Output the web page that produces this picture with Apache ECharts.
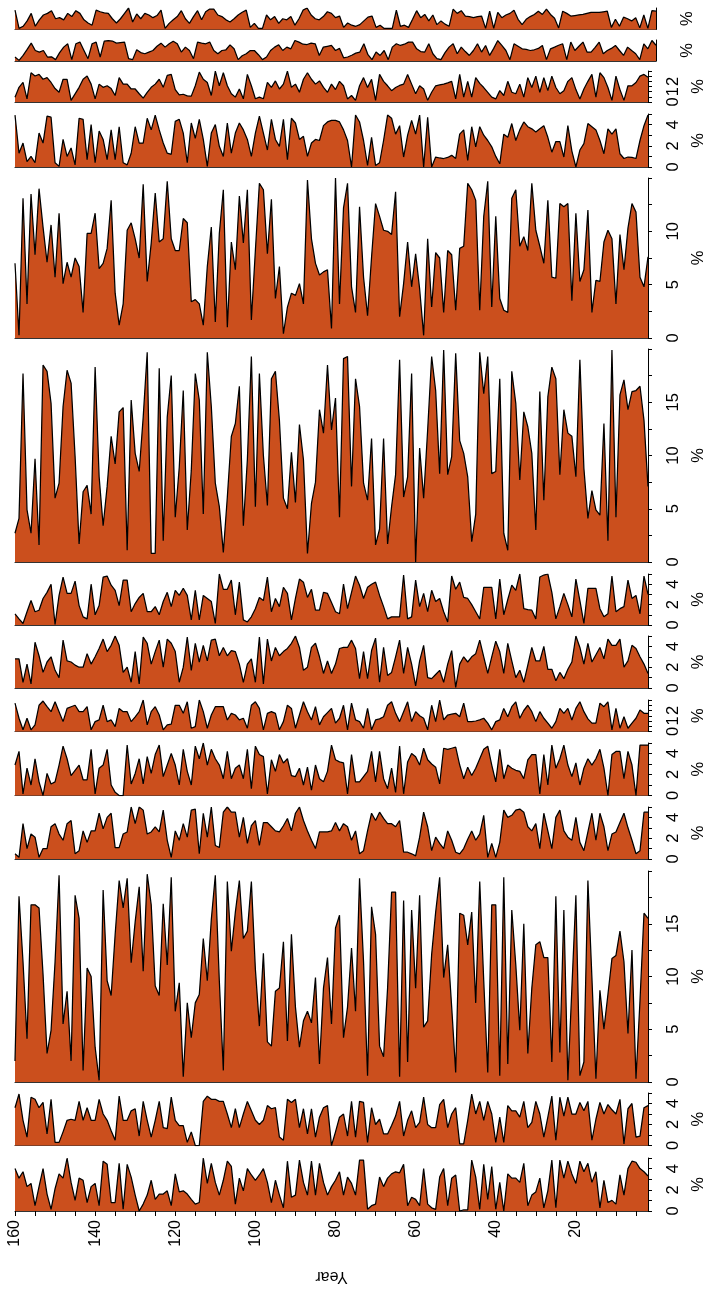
<!DOCTYPE html>
<html><head><meta charset="utf-8">
<script src="https://cdn.jsdelivr.net/npm/echarts@6/dist/echarts.min.js"></script>
<style>html,body{margin:0;padding:0;background:#fff}#c{width:715px;height:1290px}</style>
</head><body><div id="c"></div>
<script>
const years = [160,159,158,157,156,155,154,153,152,151,150,149,148,147,146,145,144,143,142,141,
140,139,138,137,136,135,134,133,132,131,130,129,128,127,126,125,124,123,122,121,
120,119,118,117,116,115,114,113,112,111,110,109,108,107,106,105,104,103,102,101,
100,99,98,97,96,95,94,93,92,91,90,89,88,87,86,85,84,83,82,81,
80,79,78,77,76,75,74,73,72,71,70,69,68,67,66,65,64,63,62,61,
60,59,58,57,56,55,54,53,52,51,50,49,48,47,46,45,44,43,42,41,
40,39,38,37,36,35,34,33,32,31,30,29,28,27,26,25,24,23,22,21,
20,19,18,17,16,15,14,13,12,11,10,9,8,7,6,5,4,3,2];

const p01 = [1.8,0.1,0.3,0.8,1.5,0.3,0.9,1.35,1.5,1.75,1.0,1.1,0.9,1.5,1.2,1.75,1.5,0.9,0.6,0.4,
1.8,1.65,1.55,1.5,1.0,0.6,1.0,1.5,2.0,0.7,1.45,1.0,1.5,1.35,1.1,1.3,1.8,0.1,0.57,0.9,
1.2,1.75,1.0,0.57,1.2,1.75,0.9,1.65,1.9,1.9,1.35,1.2,0.9,0.7,1.0,1.35,1.6,1.8,0.2,0.57,
0.1,0.1,1.35,0.9,1.2,0.57,1.0,0.9,1.2,0.4,1.0,1.8,2.0,1.35,1.0,0.9,1.2,1.65,1.5,1.1,
1.25,0.2,0.6,0.4,0.3,0.45,0.8,1.15,1.25,0.2,0.4,0.1,0.1,0.1,1.8,0.3,0.4,0.2,0.95,1.75,
1.1,1.4,0.8,1.35,0.45,0.8,0.5,0.3,1.9,1.5,1.75,1.25,1.2,1.1,1.2,1.25,0.1,1.7,0.1,1.6,
1.1,1.35,1.5,1.8,0.95,0.45,0.95,1.2,1.4,1.7,1.4,1.9,1.4,1.05,0.15,1.7,1.5,1.25,1.3,1.35,
1.4,1.5,1.6,1.6,1.6,1.65,1.7,0.2,0.95,0.3,1.15,1.0,0.8,1.1,0.15,1.35,0.1,1.75,1.7];

const p02 = [0.38,0.06,0.53,1.1,1.7,1.0,0.85,1.0,0.38,0.4,0.13,0.8,1.32,1.64,0.13,1.64,1.8,1.0,0.22,1.64,
1.8,0.38,1.89,1.95,1.9,1.7,1.75,1.8,0.22,0.13,1.07,0.8,0.69,0.85,1.0,1.4,1.7,1.32,1.64,1.89,
1.64,0.85,1.32,1.0,0.22,1.8,1.7,1.64,1.8,1.0,0.69,1.0,1.07,1.54,1.16,0.13,0.5,0.69,1.0,1.0,
0.6,0.13,0.38,1.0,1.32,1.54,1.0,1.32,1.16,1.95,1.8,1.6,1.57,1.7,1.64,0.53,1.32,1.4,1.48,1.0,
1.2,0.3,0.38,0.55,0.75,0.85,1.64,0.6,0.13,0.85,0.53,1.0,0.13,1.32,1.64,1.48,1.6,1.8,1.8,1.16,
0.9,0.85,1.64,0.69,0.22,0.13,0.8,1.32,1.64,0.69,1.32,0.9,0.53,1.0,1.64,0.85,1.48,0.53,1.2,1.95,
1.48,1.0,0.13,1.64,1.4,1.16,1.1,1.0,1.07,1.2,1.48,0.13,1.16,1.32,1.5,1.64,0.13,1.8,1.0,1.4,
1.8,0.85,0.85,1.3,1.8,0.69,1.0,1.2,1.48,1.0,0.53,1.32,1.0,0.69,0.13,1.64,1.16,1.95,1.5];

const p03 = [0.47,1.42,1.89,0.31,2.83,2.52,2.67,2.2,2.36,1.89,1.3,0.94,2.2,2.2,0.16,0.79,1.42,2.2,2.52,1.73,
0.31,1.73,1.42,1.57,1.3,0.63,2.36,1.73,1.73,1.26,1.26,0.8,0.38,0.94,1.42,1.73,2.2,1.42,2.58,2.67,
1.2,0.69,0.75,0.6,0.57,1.57,2.89,2.2,1.89,0.63,2.99,1.57,2.83,1.57,0.8,0.47,1.26,0.31,2.67,1.57,
0.31,0.47,0.31,1.89,1.42,2.04,1.26,1.73,2.99,1.42,1.73,0.94,2.2,2.83,2.2,1.73,2.04,1.42,0.94,1.73,
1.2,2.0,1.57,0.3,0.63,0.16,1.57,2.36,1.4,2.2,0.16,2.67,2.0,1.57,1.1,1.4,1.6,1.73,2.67,1.73,
0.8,1.57,1.26,0.16,0.94,1.57,1.65,1.73,1.85,2.0,0.3,2.67,0.47,2.0,0.47,2.36,1.8,1.4,0.94,0.47,
0.3,1.1,0.63,2.0,0.94,0.8,1.73,0.47,2.36,1.4,2.5,0.94,2.36,1.1,2.5,1.4,0.8,1.1,2.0,2.36,
1.2,0.3,1.26,2.0,2.67,0.47,2.83,2.36,1.4,0.16,2.5,1.2,0.16,1.57,1.57,1.89,2.5,2.67,2.4];

const p04 = [4.9,1.3,2.26,0.5,1.0,0.4,3.2,2.26,4.8,4.7,0.4,0.06,2.6,1.0,1.8,0.2,4.6,4.5,0.7,4.0,
0.4,3.4,2.6,0.7,3.5,0.7,3.8,0.4,0.2,1.3,3.8,2.26,2.26,4.6,3.5,4.9,3.5,2.26,1.3,1.2,
4.3,4.5,3.2,0.4,4.15,2.7,4.5,2.6,0.06,3.2,4.0,1.95,1.0,4.15,1.3,3.2,4.15,3.5,2.6,1.0,
3.2,4.8,3.2,1.6,4.5,2.6,1.95,4.5,0.7,4.6,4.15,2.6,2.9,1.0,2.26,2.6,
2.5,3.9,4.25,4.4,4.4,4.25,3.5,2.5,0.0,4.9,4.25,2.5,0.15,2.8,0.15,0.4,2.5,4.9,4.6,3.1,
3.9,0.94,3.0,4.4,3.1,4.9,0.0,4.7,0.0,0.94,0.85,0.8,0.9,1.1,0.8,3.1,3.5,0.63,3.8,1.9,
3.8,3.0,2.5,1.9,1.0,0.3,3.1,2.8,4.1,2.5,3.5,4.25,3.8,3.6,3.3,3.6,3.9,2.8,1.4,2.4,
2.4,0.94,3.9,1.5,0.0,1.6,2.2,4.1,3.8,3.5,2.5,1.25,3.6,3.1,3.6,1.25,0.8,0.94,0.9,0.8,
2.5,3.9,4.9];

const p05 = [7.0,0.25,13.1,3.2,13.5,7.8,14.0,10.4,7.1,10.6,5.7,11.7,5.1,7.1,5.7,7.5,6.7,2.4,9.8,9.8,
11.7,6.5,7.0,8.4,12.9,4.2,1.2,3.2,10.1,10.8,9.3,7.5,14.4,5.3,8.9,13.6,9.0,9.3,14.7,9.3,
8.2,8.2,11.2,10.8,3.4,3.6,3.2,1.2,6.7,10.4,1.5,9.8,13.9,1.0,9.0,6.4,13.3,8.9,13.9,1.7,
8.2,14.5,13.9,7.9,13.0,3.7,6.7,0.4,2.9,4.2,4.0,5.1,3.2,14.8,9.3,7.0,
5.9,6.2,6.4,0.9,15.0,3.2,12.2,14.5,4.8,2.4,12.3,5.7,2.1,7.6,12.6,11.4,10.1,10.0,9.7,13.7,
2.0,5.1,9.0,4.8,7.9,4.6,0.25,9.3,2.9,8.0,7.5,2.4,8.2,7.8,2.6,8.4,8.6,14.5,13.9,12.9,
2.6,11.4,14.7,2.9,11.4,3.7,2.6,2.4,13.1,13.9,8.6,9.5,8.2,14.5,10.1,8.6,7.0,12.9,5.7,5.6,
12.6,12.3,12.6,3.5,11.7,5.3,6.4,12.0,2.4,5.4,5.3,9.0,10.1,9.3,3.2,9.7,6.4,10.3,12.6,11.8,
5.7,4.8,7.6];

const p06 = [2.7,4.1,17.7,4.9,2.7,9.7,1.6,18.5,17.9,14.9,6.0,7.4,14.6,18.0,16.8,9.9,1.7,6.6,7.2,4.5,
18.3,8.0,3.4,7.1,11.8,9.2,14.1,14.5,1.1,15.2,10.2,8.5,13.6,19.7,0.8,0.8,18.2,2.0,13.6,17.5,
4.2,8.9,16.1,3.0,8.6,17.7,15.2,4.5,19.7,14.6,7.4,5.2,0.9,6.1,11.8,13.0,16.5,3.4,9.6,19.3,
5.2,17.7,10.0,5.3,17.2,17.9,13.3,6.0,5.0,10.3,5.6,12.9,9.6,0.8,5.5,7.5,
14.3,12.1,18.5,12.4,15.4,4.2,19.1,19.3,7.1,17.2,14.6,7.4,5.8,11.6,1.6,3.1,11.6,1.7,5.2,8.2,
19.0,6.1,8.0,17.7,0.0,10.7,6.0,12.4,19.3,16.1,8.3,19.9,8.2,9.9,19.6,11.4,10.2,8.0,1.9,4.5,
19.7,15.8,19.3,8.3,8.5,17.2,2.7,1.1,17.9,14.9,7.7,14.1,12.7,10.2,3.0,16.0,5.8,15.5,18.3,17.2,
8.2,14.3,12.1,11.8,8.0,19.0,8.8,4.1,6.7,4.9,4.4,13.0,2.0,19.9,4.2,15.7,17.1,14.3,16.0,16.1,
16.5,13.3,7.1];

const p07 = [1.1,0.6,0.15,1.3,2.4,1.3,1.45,2.6,3.2,4.0,0.05,2.9,4.7,3.1,3.1,4.3,1.9,0.8,0.6,4.0,
1.0,1.9,4.7,4.8,3.9,3.4,1.9,4.4,4.4,1.3,2.1,2.7,3.1,1.3,1.3,1.8,1.0,2.3,3.2,1.8,
3.4,2.9,3.6,2.9,0.5,3.4,0.5,2.9,2.6,2.3,0.15,5.0,3.5,3.5,4.4,1.0,4.2,0.5,0.3,0.8,
1.6,2.7,2.4,4.7,1.3,2.6,1.8,3.7,3.1,0.5,2.6,4.5,4.2,2.7,3.5,1.45,
1.45,3.2,3.1,2.2,1.3,1.1,4.0,1.6,3.2,4.8,3.9,2.6,3.7,4.0,4.2,2.9,1.8,0.6,0.8,0.8,
0.8,4.9,0.6,0.8,4.4,1.8,3.1,1.3,3.4,2.3,2.6,1.3,0.3,4.8,3.5,4.2,2.7,2.6,2.0,1.3,
0.6,3.7,3.7,3.7,0.6,4.5,1.0,2.5,3.9,3.4,5.0,1.6,1.5,1.45,0.6,4.7,4.9,5.0,3.2,0.6,
1.8,3.1,2.0,0.8,4.5,2.4,0.15,3.6,3.6,3.6,1.6,0.8,1.1,4.8,1.3,1.6,1.8,4.4,2.6,2.9,
1.1,4.8,3.0];

const p08 = [2.8,2.8,0.55,2.3,0.4,4.4,3.1,1.5,2.5,3.0,1.7,1.0,4.6,2.6,2.5,2.2,2.0,2.0,3.3,2.3,
3.0,3.8,4.7,3.5,4.1,5.0,4.1,1.5,2.0,0.55,3.5,0.4,4.9,4.3,2.3,3.5,4.6,2.0,4.7,4.3,
3.5,0.55,2.0,4.9,1.7,4.3,2.5,4.1,2.6,4.6,4.7,3.1,3.9,3.1,3.6,3.5,2.3,0.55,2.3,2.8,
0.55,4.9,0.4,4.7,2.6,3.9,3.1,3.5,3.8,4.3,5.0,3.9,1.7,2.0,3.9,4.3,
3.0,1.4,2.6,1.4,2.3,3.8,3.9,3.9,4.6,3.8,0.9,3.5,0.9,3.6,4.8,0.55,3.9,1.2,1.5,3.0,
4.6,1.4,3.9,2.3,0.2,2.6,4.1,1.0,0.9,1.3,1.7,0.55,2.3,3.6,0.06,2.3,3.0,2.5,3.0,3.3,
4.6,3.0,1.4,3.0,4.5,3.5,1.4,4.3,2.6,1.0,1.7,0.55,2.2,3.9,2.6,2.6,4.0,1.8,1.8,0.7,
1.5,0.9,1.8,2.5,5.0,3.9,2.3,4.3,2.5,3.2,3.9,2.8,4.7,4.1,4.1,4.7,2.0,2.6,4.1,3.8,
3.0,2.3,1.4];

const p09 = [2.7,1.26,0.16,1.26,0.16,0.63,2.5,2.9,2.36,1.89,2.83,1.89,0.94,2.2,2.36,2.5,1.89,1.89,2.36,0.16,
0.94,1.1,2.5,0.94,1.1,0.47,2.2,1.89,1.89,0.94,1.4,1.89,3.0,0.63,1.89,2.36,1.57,0.16,0.63,0.7,
2.5,2.5,1.73,2.83,0.31,0.47,3.0,1.89,0.31,1.57,2.36,2.36,2.36,1.1,1.73,1.57,1.1,1.26,0.31,2.5,
2.83,2.2,0.16,1.73,1.89,1.73,0.16,0.94,2.5,2.2,0.31,1.57,2.83,1.89,1.1,2.36,
0.63,1.4,1.8,2.2,0.8,1.26,2.5,0.16,2.7,1.1,0.94,0.31,2.2,0.16,1.1,1.2,1.4,2.5,2.83,1.73,
0.94,1.89,2.83,0.94,1.89,1.5,1.26,0.16,2.5,0.94,3.0,1.1,1.57,1.65,1.73,1.4,2.7,0.94,0.94,1.0,
1.1,1.26,0.8,0.16,0.94,1.1,2.2,1.4,2.36,2.83,1.26,2.0,2.5,1.89,0.94,1.89,1.26,0.8,0.31,0.94,
2.2,1.73,2.2,1.1,2.2,2.83,1.89,1.2,0.8,0.8,2.7,2.36,2.83,0.16,2.2,0.31,1.4,0.31,0.8,1.26,
2.04,1.73,1.73];

const p10 = [2.9,4.2,0.16,2.6,1.0,3.5,1.3,0.0,2.1,1.1,1.3,2.9,4.7,3.5,1.9,2.4,2.9,1.5,1.5,4.4,
0.16,2.6,2.9,4.4,1.0,0.3,0.0,0.0,4.8,1.1,2.1,3.5,1.1,3.7,2.1,3.9,4.8,1.8,2.9,4.0,
2.9,1.0,4.4,2.3,1.0,4.7,3.5,5.0,2.9,4.4,3.5,2.9,1.6,4.2,1.6,2.6,2.9,1.6,4.4,0.65,
4.7,3.9,3.7,0.16,3.4,2.3,3.9,3.1,3.5,1.9,1.8,2.6,1.0,2.7,0.5,2.9,
1.6,1.3,2.3,4.8,3.4,3.2,3.1,0.16,3.9,1.3,1.3,1.8,2.3,4.2,1.3,4.2,1.6,0.65,2.6,0.3,
4.7,0.16,3.2,4.0,3.7,2.9,4.5,3.4,3.0,2.7,1.1,4.5,4.4,4.5,4.6,2.9,1.6,2.7,1.9,2.6,
3.5,4.4,4.7,2.9,1.3,4.4,1.6,2.9,2.6,2.4,2.3,1.6,3.4,3.9,3.9,0.16,3.9,1.0,4.8,2.6,
3.5,4.8,2.9,1.8,3.1,1.0,2.6,3.5,2.9,3.5,4.4,2.6,0.0,3.9,4.2,4.2,1.6,4.2,2.9,0.0,
4.8,4.8,4.8];

const p11 = [0.5,0.16,3.4,1.0,2.4,2.1,0.16,1.0,1.0,3.1,3.4,2.4,1.8,3.4,3.7,0.5,0.8,2.7,1.6,2.7,
2.7,4.4,2.9,4.0,4.4,1.1,1.1,2.4,2.6,5.0,3.4,5.0,4.7,2.4,2.6,3.1,2.6,4.7,1.8,0.16,
2.7,1.8,3.4,2.1,4.7,4.8,0.5,4.4,2.1,5.0,1.3,1.1,4.5,5.0,4.5,4.5,2.1,4.0,1.5,3.2,
3.7,1.3,3.5,3.5,3.1,2.7,2.6,3.2,3.9,2.7,4.4,5.0,3.7,2.7,1.8,1.0,
2.6,2.6,2.6,2.7,3.5,2.7,3.4,3.1,1.8,2.7,0.5,0.8,2.7,4.4,3.7,4.5,3.9,3.4,3.4,3.1,
3.7,0.65,0.65,0.5,0.3,2.1,4.5,3.1,0.8,2.1,1.5,1.0,2.7,1.8,0.65,0.5,1.0,1.9,2.7,1.8,
2.4,4.2,0.16,1.5,0.16,1.6,4.7,4.0,4.2,4.7,4.8,4.5,3.1,2.7,3.4,1.0,4.4,2.7,1.0,4.0,
4.7,2.7,2.1,1.8,4.0,1.6,0.8,2.6,4.4,1.8,4.4,3.1,0.8,2.4,2.6,3.5,4.4,3.0,1.8,0.5,
0.8,4.5,4.5];

const p12 = [2.0,17.6,11.4,4.1,16.8,16.8,16.5,10.2,2.7,4.9,11.4,19.6,5.5,8.6,2.0,17.7,15.5,1.1,10.8,10.0,
3.3,0.16,18.2,9.6,8.2,14.0,19.1,16.5,19.3,11.3,15.2,18.5,10.5,19.7,16.8,9.1,8.2,16.9,11.1,19.4,
6.7,9.4,0.5,7.5,4.2,7.5,8.3,13.6,9.6,15.4,19.6,9.6,1.1,19.0,12.4,16.1,19.1,13.6,14.3,19.0,
10.7,5.3,12.2,3.8,3.4,8.6,8.9,13.3,3.9,14.0,7.1,3.3,5.8,6.7,5.6,9.9,
1.7,8.9,11.8,5.5,14.6,15.8,4.2,7.1,12.7,6.7,19.3,11.4,0.6,16.6,14.0,3.4,2.4,8.9,18.0,18.0,
0.5,17.2,1.9,16.3,8.9,17.7,5.2,5.8,12.1,16.1,19.4,9.9,13.0,7.1,0.9,16.0,15.8,13.0,16.1,7.5,
19.0,9.6,0.9,16.8,16.8,0.6,19.4,1.7,16.3,11.1,4.9,15.0,2.7,8.9,13.0,13.3,11.8,11.8,1.9,17.6,
2.8,16.3,0.16,8.9,17.7,0.6,1.9,19.1,9.9,0.3,8.7,5.0,8.3,11.7,12.0,14.3,11.4,4.6,12.5,0.3,
7.7,16.0,15.5];

const p13 = [3.6,4.9,2.4,0.8,4.6,4.4,3.6,4.1,1.1,4.4,0.3,0.3,1.3,2.4,2.5,2.4,4.2,2.4,3.6,2.4,
2.4,4.4,3.0,2.4,1.4,0.5,4.7,2.4,2.4,3.3,3.5,0.9,4.2,2.4,0.8,2.4,4.2,1.7,1.6,4.6,
2.4,1.9,1.9,0.3,1.3,0.0,0.0,4.2,4.7,4.4,4.4,4.2,4.2,3.0,1.7,3.5,1.7,3.0,4.2,3.3,
2.4,2.0,2.4,3.8,3.5,3.6,0.8,0.5,4.4,4.1,4.4,1.7,3.5,1.1,3.5,0.8,
2.7,3.6,3.8,0.0,1.3,2.7,3.0,0.9,4.2,0.8,4.2,4.1,0.3,3.6,2.0,2.5,1.1,1.1,1.9,2.8,
4.2,0.9,2.4,3.3,1.7,2.2,4.6,2.0,1.7,1.7,3.9,4.4,1.7,3.0,3.6,0.16,0.16,2.4,4.9,3.0,
4.2,2.4,4.2,3.0,0.3,2.7,0.3,3.8,3.3,3.3,2.7,4.2,1.7,2.2,4.2,3.0,0.8,2.7,4.7,0.5,
4.6,2.8,4.6,3.0,3.0,4.1,3.3,4.2,0.5,2.5,4.1,3.0,3.9,3.4,3.0,4.4,0.16,3.5,4.0,0.8,
0.9,3.6,3.8];

const p14 = [4.0,3.1,3.7,2.3,2.6,0.5,2.3,4.0,1.6,0.16,2.1,3.5,3.1,5.0,2.7,1.0,3.1,2.9,0.8,2.3,
2.6,0.5,4.7,4.4,0.8,0.8,4.5,0.16,4.4,3.2,1.5,0.0,0.65,1.5,2.9,1.1,1.6,1.6,1.9,0.5,
3.5,1.8,1.9,1.6,1.1,0.65,0.8,5.0,2.6,4.5,2.7,1.5,2.9,4.7,4.2,0.65,3.1,1.9,4.0,3.4,
2.9,3.4,4.0,2.7,0.8,2.9,1.5,0.3,4.7,1.3,1.5,4.8,2.7,1.5,4.7,1.5,
4.5,2.7,1.5,2.3,2.9,3.7,1.5,3.2,2.6,1.5,4.8,4.8,0.16,0.5,0.65,3.2,2.3,3.1,3.5,3.7,
3.6,4.4,0.5,1.3,1.1,0.5,4.0,0.65,0.3,0.16,3.2,4.0,0.5,3.1,3.4,0.0,0.1,0.1,4.8,3.2,
0.16,4.4,1.1,4.2,0.16,2.7,0.0,3.5,3.1,3.1,2.7,4.5,0.5,1.5,1.8,3.1,0.3,1.9,4.8,0.3,
4.8,3.1,4.7,3.5,2.6,4.7,3.7,4.5,2.7,3.7,0.3,2.9,0.8,1.0,0.65,3.4,1.5,4.0,4.7,4.6,
4.0,3.7,3.3];

// value-axis ranges (%) and tick labels for each strip, top to bottom
const yMax = [2, 2, 3, 5, 15, 20, 5, 5, 3, 5, 5, 20, 5, 5];
const yTickStep = [0, 0, 0.5, 1, 2.5, 2.5, 1, 1, 0.5, 1, 1, 2.5, 1, 1];
const yLabelsSmall2 = [];
const yLabels3 = [0, 1, 2];
const yLabels5 = [0, 2, 4];
const yLabels15 = [0, 5, 10];
const yLabels20 = [0, 5, 10, 15];
const xLabelYears = [20, 40, 60, 80, 100, 120, 140, 160];
const xTickYears = [5,10,15,20,25,30,35,40,45,50,55,60,65,70,75,80,85,90,95,100,105,110,115,120,125,130,135,140,145,150,155,160];

// ---- layout (pixels) ----
const layout = [[8,21.5],[40,21],[71,31],[114,53],[178,160],[349,213],[574,51],[636,52],
                [700,31.5],[743,52.5],[807,52],[871,211],[1093,52.5],[1158,53]];
const FILL = '#CB4F1D';
const FONT = '"Liberation Sans", Arial, Helvetica, sans-serif';

const panels = [p01,p02,p03,p04,p05,p06,p07,p08,p09,p10,p11,p12,p13,p14];
function labelsFor(m){ if(m<=2) return yLabelsSmall2; if(m===3) return yLabels3; if(m===5) return yLabels5; if(m===15) return yLabels15; return yLabels20; }
function ticksFor(k){ const s=yTickStep[k]; const out=[]; if(!s) return out; for(let v=0; v<=yMax[k]+1e-9; v+=s) out.push(+v.toFixed(2)); return out; }

const option = {animation:false, grid:[], xAxis:[], yAxis:[], series:[]};
panels.forEach((vals,k)=>{
  const last = k === panels.length-1;
  option.grid.push({left:15, right:59, top:layout[k][0], height:layout[k][1]});
  option.xAxis.push({
    type:'value', gridIndex:k, min:2, max:160, inverse:true,
    axisLine:{show:true, onZero:false, lineStyle:{color:'#333', width:1.2}},
    axisTick:{show:last, length:5, customValues:xTickYears, lineStyle:{color:'#000', width:1}},
    axisLabel:{show:last, rotate:90, margin:9, fontSize:16, color:'#000', fontFamily:FONT, customValues:xLabelYears},
    splitLine:{show:false},
    name: last ? 'Year' : '', nameLocation:'middle', nameGap:57, nameRotate:180,
    nameTextStyle:{fontSize:16, color:'#000', fontFamily:FONT}
  });
  const hasTicks = yMax[k] > 2;
  option.yAxis.push({
    type:'value', gridIndex:k, position:'right', min:0, max:yMax[k],
    axisLine:{show:true, onZero:false, lineStyle:{color:'#000', width:1}},
    axisTick:{show:hasTicks, length:4, customValues:ticksFor(k), lineStyle:{color:'#000', width:1}},
    axisLabel:{show:hasTicks, rotate:90, margin:17, fontSize:16.5, color:'#000', fontFamily:FONT, customValues:labelsFor(yMax[k])},
    splitLine:{show:false},
    name:'%', nameLocation:'middle', nameRotate:90, nameGap: hasTicks ? 42 : 23,
    nameTextStyle:{fontSize:16.5, color:'#000', fontFamily:FONT}
  });
  option.series.push({
    type:'line', xAxisIndex:k, yAxisIndex:k,
    data: years.map((y,i)=>[y, vals[i]]),
    symbol:'none', lineStyle:{color:'#000', width:1.25},
    areaStyle:{color:FILL, opacity:1}, silent:true
  });
});
const chart = echarts.init(document.getElementById('c'), null, {renderer:'canvas'});
chart.setOption(option);
</script>
</body></html>
